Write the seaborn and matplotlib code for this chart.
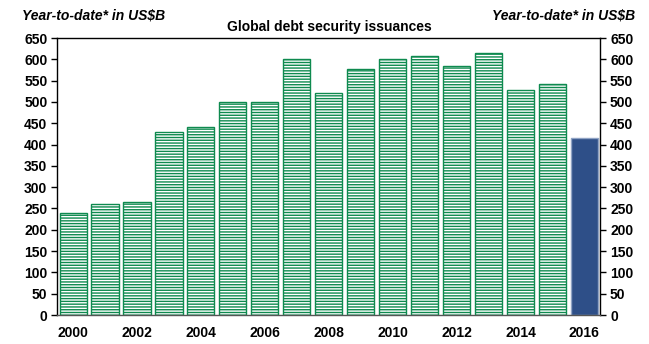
import matplotlib
matplotlib.use("Agg")
import matplotlib.pyplot as plt
import seaborn as sns
import pandas as pd

years = list(range(2000, 2017))
values = [240, 260, 265, 430, 442, 500, 500, 600, 520, 578, 600, 608, 585, 615, 527, 542, 415]
tick_labels = [str(y) if y % 2 == 0 else "" for y in years]

sns.set_style("ticks")
plt.rcParams['font.family'] = ['Liberation Sans', 'DejaVu Sans']
plt.rcParams['hatch.linewidth'] = 1.0
plt.rcParams['text.color'] = 'black'
plt.rcParams['xtick.color'] = 'black'
plt.rcParams['ytick.color'] = 'black'
plt.rcParams['xtick.labelcolor'] = 'black'
plt.rcParams['ytick.labelcolor'] = 'black'

df = pd.DataFrame({"year": [str(y) for y in years], "value": values})

fig = plt.figure(figsize=(6.49, 3.44), dpi=100)
ax = fig.add_axes([0.088, 0.0843, 0.837, 0.8052])

sns.barplot(data=df, x="year", y="value", ax=ax, width=0.85, color="white")

green = "#0e8a4f"
for i, p in enumerate(ax.patches):
    if i < len(years) - 1:
        p.set_facecolor("white")
        p.set_edgecolor(green)
        p.set_hatch("------")
        p.set_linewidth(1.0)
    else:
        p.set_facecolor("#2e4f88")
        p.set_edgecolor("#8fa3c4")
        p.set_linewidth(1.0)

ax.set_ylim(0, 650)
ax.set_yticks(range(0, 651, 50))
ax.set_xticks(range(len(years)))
ax.set_xticklabels(tick_labels)
ax.set_xlim(-0.5, len(years) - 0.5)
ax.set_xlabel("")
ax.set_ylabel("")

for s in ["left", "right", "top", "bottom"]:
    ax.spines[s].set_visible(True)
    ax.spines[s].set_color("black")
    ax.spines[s].set_linewidth(1.0)
ax.spines["bottom"].set_color("#555555")

ax.tick_params(axis="y", which="both", left=True, right=True, labelleft=True, labelright=True,
               direction="out", length=4, width=1, labelsize=10, pad=3)
ax.tick_params(axis="x", length=0, labelsize=10, pad=8)
for lab in ax.get_xticklabels() + ax.get_yticklabels():
    lab.set_fontweight("bold")
for t in ax.yaxis.get_major_ticks():
    t.label2.set_fontweight("bold")

fig.text(0.034, 0.975, "Year-to-date* in US$B", ha="left", va="top", fontsize=10,
         fontweight="bold", fontstyle="italic")
fig.text(0.979, 0.975, "Year-to-date* in US$B", ha="right", va="top", fontsize=10,
         fontweight="bold", fontstyle="italic")
fig.text(0.508, 0.922, "Global debt security issuances", ha="center", va="center",
         fontsize=10, fontweight="bold")

fig.savefig("out.png", dpi=100)
